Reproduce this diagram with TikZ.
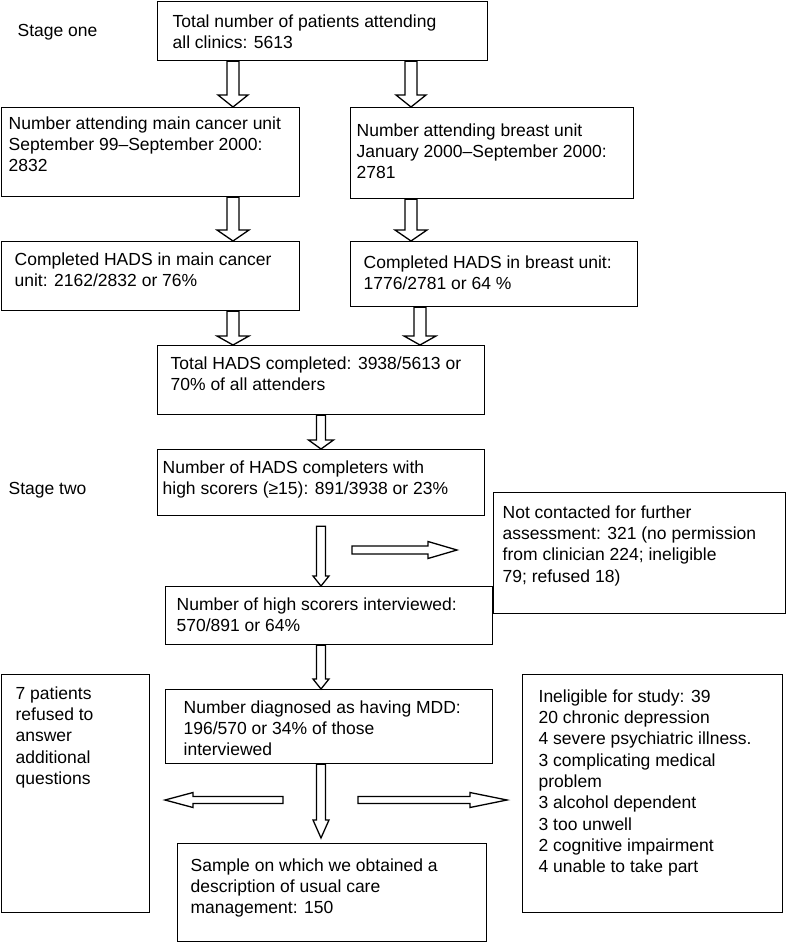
\documentclass[tikz,border=0pt]{standalone}
\usepackage{fontspec}
\setmainfont{Liberation Sans}
\usetikzlibrary{calc}

\newlength\px \setlength\px{0.5pt}
% box text: width, height, left pad, top pad, text (all in px)
\newcommand{\boxtxt}[5]{\parbox[t][#2\px][t]{#1\px}{\raggedright\leftskip=#3\px\parindent=0pt\vspace*{#4\px}#5}}
% hollow block arrow: half shaft, half head, head length, from, to
\newcommand{\blockarrow}[5]{%
  \path (#4) coordinate (ha) (#5) coordinate (hb);
  \path ($(hb)!#3*0.5pt!(ha)$) coordinate (hc);
  \draw[fill=white] ($(ha)!#1*0.5pt!90:(hb)$) -- ($(hc)!#1*0.5pt!90:(hb)$)
    -- ($(hc)!#2*0.5pt!90:(hb)$) -- (hb) -- ($(hc)!#2*0.5pt!-90:(hb)$)
    -- ($(hc)!#1*0.5pt!-90:(hb)$) -- ($(ha)!#1*0.5pt!-90:(hb)$) -- cycle;}

\begin{document}
\begin{tikzpicture}[x=0.5pt,y=-0.5pt,line width=0.65pt,
  font=\fontsize{8.75pt}{10.65pt}\selectfont,
  box/.style={draw,anchor=north west,inner sep=0pt},
  stage/.style={anchor=west,inner sep=0pt}]
\useasboundingbox (0,0) rectangle (786,943);

%stage labels
\node[stage] (s1) at (17,32) {Stage one};
\node[stage] (s2) at (8,490) {Stage two};

%stage one boxes
\node[box] (A) at (157,1) {\boxtxt{330}{59}{15}{13}{Total number of patients attending\\all clinics: 5613}};
\node[box] (B) at (1,107) {\boxtxt{298}{89}{7}{9}{Number attending main cancer unit\\September 99\textendash September 2000:\\2832}};
\node[box] (C) at (350,107) {\boxtxt{283}{91}{6}{16}{Number attending breast unit\\January 2000\textendash September 2000:\\2781}};
\node[box] (D) at (1,241) {\boxtxt{298}{69}{13}{11}{Completed HADS in main cancer\\unit: 2162/2832 or 76\%}};
\node[box] (E) at (350,241) {\boxtxt{287}{65}{13}{14}{Completed HADS in breast unit:\\1776/2781 or 64 \%}};
\node[box] (F) at (157,345) {\boxtxt{327}{69}{13}{11}{Total HADS completed: 3938/5613 or\\70\% of all attenders}};

%stage two boxes
\node[box] (G) at (157,449) {\boxtxt{327}{66}{5}{11}{Number of HADS completers with\\high scorers (≥15): 891/3938 or 23\%}};
\node[box] (H) at (493,492) {\boxtxt{292}{121}{9}{13}{Not contacted for further\\assessment: 321 (no permission\\from clinician 224; ineligible\\79; refused 18)}};
\node[box] (I) at (165,586) {\boxtxt{327}{58}{11}{11}{Number of high scorers interviewed:\\570/891 or 64\%}};
\node[box] (J) at (165,689) {\boxtxt{327}{74}{18}{11}{Number diagnosed as having MDD:\\196/570 or 34\% of those\\interviewed}};
\node[box] (K) at (1,674) {\boxtxt{148}{238}{14}{12}{7 patients\\refused to\\answer\\additional\\questions}};
\node[box] (L) at (522,674) {\boxtxt{260}{238}{16}{15}{Ineligible for study: 39\\20 chronic depression\\4 severe psychiatric illness.\\3 complicating medical\\problem\\3 alcohol dependent\\3 too unwell\\2 cognitive impairment\\4 unable to take part}};
\node[box] (M) at (177,843) {\boxtxt{309}{98}{13}{15}{Sample on which we obtained a\\description of usual care\\management: 150}};

%arrow columns and free ends
\coordinate (xl) at (233,0);
\coordinate (xr) at (411,0);
\coordinate (xe) at (420,0);
\coordinate (xm) at (321,0);
\coordinate (hs) at (352,550);
\coordinate (ht) at (457,550);
\coordinate (ls) at (283,800);
\coordinate (lt) at (165,800);
\coordinate (rs) at (358,800);
\coordinate (rt) at (507,800);

%block arrows
\blockarrow{6}{15}{12}{A.south -| xl}{B.north -| xl}
\blockarrow{6}{15}{12}{A.south -| xr}{C.north -| xr}
\blockarrow{6}{16}{11}{B.south -| xl}{D.north -| xl}
\blockarrow{6}{16}{11}{C.south -| xr}{E.north -| xr}
\blockarrow{6}{16}{9}{D.south -| xl}{F.north -| xl}
\blockarrow{6}{16}{9}{E.south -| xe}{F.north -| xe}
\blockarrow{4.5}{12.5}{9}{F.south -| xm}{G.north -| xm}
\blockarrow{4.5}{8}{10}{$(G.south -| xm)+(0,10)$}{I.north -| xm}
\blockarrow{4}{8.5}{29}{hs}{ht}
\blockarrow{4.5}{8}{10}{I.south -| xm}{J.north -| xm}
\blockarrow{4.5}{8}{18}{J.south -| xm}{$(M.north -| xm)+(0,-5)$}
\blockarrow{3.5}{7.5}{28}{ls}{lt}
\blockarrow{3.5}{7.5}{37}{rs}{rt}
\end{tikzpicture}
\end{document}
